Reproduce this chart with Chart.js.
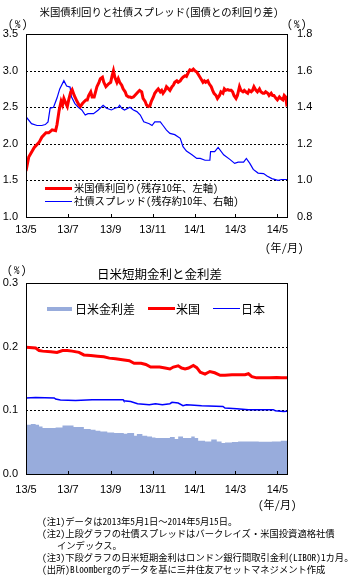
<!DOCTYPE html>
<html><head><meta charset="utf-8">
<script src="https://cdn.jsdelivr.net/npm/chart.js@4/dist/chart.umd.min.js"></script>
<style>
body{margin:0;background:#fff;}
#wrap{position:relative;width:358px;height:585px;overflow:hidden;font-family:"Noto Sans CJK JP",sans-serif;color:#000;background:#fff;font-feature-settings:"hwid" 1;}
canvas{position:absolute;left:0;}
.t{position:absolute;white-space:nowrap;line-height:1;transform:translateY(-50%);}
.c{transform:translate(-50%,-50%);}
.sw{position:absolute;}
.fw{font-feature-settings:normal;}
</style></head><body>
<div id="wrap">
<canvas id="c1" width="358" height="255" style="top:0"></canvas>
<canvas id="c2" width="358" height="245" style="top:255px"></canvas>

<div class="t c" style="left:159px;top:12px;font-size:10.4px">米国債利回りと社債スプレッド(国債との利回り差)</div>
<div class="t" style="left:8px;top:23px;font-size:11px;letter-spacing:1.5px">(%)</div>
<div class="t" style="left:287px;top:23px;font-size:11px;letter-spacing:1.5px">(%)</div>
<div class="t" style="left:265px;top:247px;font-size:11px">(年/月)</div>

<div class="sw" style="left:45px;top:186.5px;width:27px;height:3px;background:#ff0000"></div>
<div class="t" style="left:74px;top:188px;font-size:10.3px">米国債利回り(残存10年、左軸)</div>
<div class="sw" style="left:45px;top:200.5px;width:27px;height:1px;background:#0000ff"></div>
<div class="t" style="left:74px;top:201px;font-size:10.3px">社債スプレッド(残存約10年、右軸)</div>

<div class="t" style="left:7px;top:268.5px;font-size:11px;letter-spacing:1.5px">(%)</div>
<div class="t c" style="left:159.5px;top:273.5px;font-size:12.5px">日米短期金利と金利差</div>

<div class="sw" style="left:47px;top:307px;width:25px;height:4px;background:rgb(152,172,220)"></div>
<div class="t" style="left:75px;top:308.5px;font-size:12px">日米金利差</div>
<div class="sw" style="left:148px;top:306.5px;width:27px;height:3px;background:#ff0000"></div>
<div class="t" style="left:176px;top:308.5px;font-size:12px">米国</div>
<div class="sw" style="left:213px;top:307.5px;width:27px;height:1.5px;background:#0000ff"></div>
<div class="t" style="left:241px;top:308.5px;font-size:12px">日本</div>

<div class="t" style="left:258px;top:504px;font-size:11px">(年/月)</div>

<div class="t" style="left:42px;top:522px;font-size:9.3px">(注1)データは2013年5月1日<span class="fw">～</span>2014年5月15日。</div>
<div class="t" style="left:42px;top:534px;font-size:9.3px">(注2)上段グラフの社債スプレッドはバークレイズ・米国投資適格社債</div>
<div class="t" style="left:57px;top:546px;font-size:9.3px">インデックス。</div>
<div class="t" style="left:42px;top:558px;font-size:9.3px">(注3)下段グラフの日米短期金利はロンドン銀行間取引金利(LIBOR)1カ月。</div>
<div class="t" style="left:42px;top:570px;font-size:9.3px">(出所)Bloombergのデータを基に三井住友アセットマネジメント作成</div>
</div>
<script>
// x values are days counted from 2013-05-01 (end 2014-05-15 = day 379)
const tickDays = [0, 61, 123, 184, 245, 304, 365];
const tickLabels = ['13/5', '13/7', '13/9', '13/11', '14/1', '14/3', '14/5'];

// Upper chart: US 10Y Treasury yield (%, left axis)
const usYieldDays = [0,4,12,19,23,29,33,38,43,45,48,51,53,55,58,60,62,65,67,70,72,74,77,79,82,84,87,89,91,94,96,99,101,103,106,108,111,113,116,118,120,123,125,127,129,132,134,136,139,141,144,146,149,151,153,156,158,161,163,165,168,170,173,175,178,180,182,185,187,190,192,195,197,199,202,204,207,209,212,214,216,219,221,224,226,228,231,233,236,238,241,243,245,248,250,254,257,259,261,264,266,269,271,273,276,278,281,283,286,288,290,293,295,298,300,302,305,307,310,312,315,317,319,322,324,327,329,331,334,336,339,341,344,346,348,351,353,356,358,360,363,365,368,370,373,375,377,379];
const usYield = [1.63,1.82,1.95,2.02,2.09,2.15,2.15,2.19,2.18,2.26,2.45,2.58,2.53,2.62,2.55,2.51,2.60,2.71,2.74,2.66,2.62,2.58,2.53,2.51,2.55,2.57,2.60,2.60,2.66,2.71,2.64,2.64,2.71,2.78,2.84,2.89,2.91,2.84,2.78,2.80,2.82,2.84,2.93,3.00,2.91,2.84,2.89,2.84,2.80,2.75,2.71,2.66,2.64,2.64,2.63,2.64,2.66,2.69,2.71,2.73,2.71,2.62,2.58,2.53,2.51,2.52,2.58,2.64,2.69,2.73,2.75,2.71,2.73,2.69,2.73,2.78,2.75,2.73,2.78,2.80,2.84,2.86,2.84,2.86,2.89,2.91,2.93,2.92,2.98,3.01,3.00,3.02,3.00,2.98,2.95,2.89,2.84,2.86,2.84,2.86,2.82,2.78,2.73,2.69,2.66,2.62,2.66,2.71,2.69,2.75,2.73,2.74,2.73,2.73,2.71,2.66,2.62,2.66,2.78,2.73,2.71,2.73,2.71,2.69,2.73,2.71,2.73,2.78,2.73,2.71,2.75,2.71,2.69,2.69,2.71,2.69,2.66,2.69,2.66,2.66,2.62,2.60,2.64,2.62,2.60,2.66,2.64,2.51];

// Upper chart: corporate bond spread (%, right axis)
const spreadDays = [0,8,16,23,28,32,35,40,45,49,55,59,64,66,71,76,81,86,90,98,105,112,117,124,129,134,136,139,143,151,156,161,166,171,179,183,187,195,199,204,209,216,224,228,233,241,248,253,260,267,268,274,279,287,296,303,308,316,320,325,330,337,345,350,357,366,371,379];
const spread = [1.348,1.31,1.30,1.30,1.305,1.32,1.394,1.40,1.45,1.50,1.545,1.516,1.51,1.457,1.42,1.40,1.385,1.357,1.365,1.365,1.385,1.41,1.394,1.385,1.394,1.40,1.41,1.394,1.385,1.40,1.385,1.376,1.357,1.32,1.31,1.30,1.32,1.32,1.30,1.275,1.257,1.25,1.23,1.184,1.16,1.14,1.12,1.12,1.11,1.11,1.157,1.157,1.18,1.14,1.115,1.093,1.10,1.10,1.12,1.093,1.06,1.04,1.037,1.024,1.01,1.00,1.005,1.005];

// Lower chart: USD 1M LIBOR (%)
const usLiborDays = [0,14,19,24,36,45,53,60,67,77,84,94,104,113,121,130,140,150,157,167,174,181,188,194,202,209,214,221,226,231,236,243,248,253,260,267,274,282,289,299,308,318,323,328,335,345,354,364,371,379];
const usLibor = [0.199,0.198,0.194,0.193,0.192,0.191,0.194,0.194,0.193,0.191,0.187,0.186,0.185,0.184,0.182,0.181,0.1795,0.178,0.174,0.174,0.172,0.168,0.168,0.168,0.1665,0.165,0.168,0.170,0.1665,0.165,0.1665,0.1706,0.167,0.160,0.157,0.161,0.159,0.155,0.155,0.156,0.156,0.156,0.1575,0.153,0.151,0.151,0.151,0.1517,0.151,0.151];

// Lower chart: JPY 1M LIBOR (%)
const jpLiborDays = [0,14,41,43,50,72,96,141,142,152,162,179,188,198,209,212,221,228,233,239,255,286,289,306,323,359,362,374,379];
const jpLibor = [0.1194,0.1203,0.1194,0.1178,0.1162,0.1156,0.1167,0.1167,0.1151,0.114,0.1104,0.1088,0.1104,0.1088,0.1104,0.1125,0.1115,0.1073,0.1088,0.1085,0.1073,0.1062,0.1037,0.1026,0.101,0.101,0.0994,0.0983,0.0985];

// Lower chart: US-Japan rate differential (%)
const diffDays = [0,7,14,19,24,36,43,53,62,69,81,84,94,101,108,118,128,137,142,147,157,161,169,176,183,188,202,209,216,221,228,236,240,245,250,260,269,277,284,289,299,308,318,328,338,348,357,370,379];
const diff = [0.0774,0.0785,0.0774,0.0748,0.0722,0.0722,0.0732,0.0763,0.0763,0.0738,0.0738,0.0707,0.0696,0.068,0.0669,0.0653,0.0644,0.0644,0.0633,0.0644,0.0602,0.063,0.0602,0.059,0.0575,0.0565,0.0565,0.058,0.055,0.059,0.0565,0.0565,0.059,0.0565,0.0523,0.0512,0.054,0.0512,0.0487,0.0496,0.0502,0.0512,0.0512,0.0512,0.0505,0.0508,0.0512,0.0523,0.0523];

const pts = (xs, ys) => xs.map((x, i) => ({ x: x, y: ys[i] }));

// dashed horizontal grid lines at interior y ticks, drawn from the library's y scale
const dashGrid = {
  id: 'dashGrid',
  beforeDatasetsDraw(chart) {
    const { ctx, chartArea: a } = chart;
    const ys = chart.scales.y;
    ctx.save();
    ctx.strokeStyle = '#000';
    ctx.lineWidth = 1;
    ctx.setLineDash([2, 2]);
    ctx.beginPath();
    ys.ticks.forEach((t, i) => {
      if (i === 0 || i === ys.ticks.length - 1) return;
      const py = Math.round(ys.getPixelForValue(t.value)) + 0.5;
      ctx.moveTo(a.left, py);
      ctx.lineTo(a.right, py);
    });
    ctx.stroke();
    ctx.restore();
  }
};

const frame = {
  id: 'frame',
  afterDatasetsDraw(chart) {
    const { ctx, chartArea: a } = chart;
    const xs = chart.scales.x;
    ctx.save();
    ctx.strokeStyle = '#000';
    ctx.lineWidth = 1;
    ctx.setLineDash([]);
    ctx.beginPath();
    tickDays.forEach(d => {
      const px = Math.round(xs.getPixelForValue(d)) + 0.5;
      ctx.moveTo(px, Math.round(a.bottom));
      ctx.lineTo(px, Math.round(a.bottom) - 3);
    });
    ctx.stroke();
    ctx.strokeRect(Math.round(a.left) + 0.5, Math.round(a.top) + 0.5, Math.round(a.right - a.left), Math.round(a.bottom - a.top));
    ctx.restore();
  }
};

const tickFont = { family: '"Liberation Sans", Arial, sans-serif', size: 11 };

function xScale(h, pad) {
  return {
    type: 'linear', min: 0, max: 379,
    afterBuildTicks: s => { s.ticks = tickDays.map(v => ({ value: v })); },
    afterFit: s => { s.height = h; },
    ticks: { callback: (v) => tickLabels[tickDays.indexOf(v)], color: '#000', font: tickFont, padding: pad, maxRotation: 0, autoSkip: false },
    grid: { display: false, drawTicks: false },
    border: { display: false }
  };
}

Chart.defaults.animation = false;

new Chart(document.getElementById('c1'), {
  type: 'line',
  data: {
    datasets: [
      { label: '米国債利回り(残存10年、左軸)', data: pts(usYieldDays, usYield), yAxisID: 'y', borderColor: '#ff0000', borderWidth: 3, pointRadius: 0, tension: 0, fill: false },
      { label: '社債スプレッド(残存約10年、右軸)', data: pts(spreadDays, spread), yAxisID: 'y1', borderColor: '#0000ff', borderWidth: 1.2, pointRadius: 0, tension: 0, fill: false }
    ]
  },
  options: {
    responsive: false, devicePixelRatio: 1, animation: false,
    layout: { padding: { top: 34, left: 0, right: 0, bottom: 0 } },
    plugins: { legend: { display: false }, tooltip: { enabled: false } },
    scales: {
      x: xScale(38, 6),
      y: {
        position: 'left', min: 1.0, max: 3.5,
        afterFit: s => { s.width = 26; },
        ticks: { stepSize: 0.5, callback: v => v.toFixed(1), color: '#000', font: tickFont, padding: 8 },
        grid: { display: false, drawTicks: false },
        border: { display: false }
      },
      y1: {
        position: 'right', min: 0.8, max: 1.8,
        afterFit: s => { s.width = 71; },
        ticks: { stepSize: 0.2, callback: v => v.toFixed(1), color: '#000', font: tickFont, padding: 10 },
        grid: { display: false, drawTicks: false },
        border: { display: false }
      }
    }
  },
  plugins: [dashGrid, frame]
});

new Chart(document.getElementById('c2'), {
  type: 'line',
  data: {
    datasets: [
      { label: '米国', data: pts(usLiborDays, usLibor), borderColor: '#ff0000', borderWidth: 3, pointRadius: 0, tension: 0, fill: false },
      { label: '日本', data: pts(jpLiborDays, jpLibor), borderColor: '#0000ff', borderWidth: 1.5, pointRadius: 0, tension: 0, fill: false },
      { label: '日米金利差', data: pts(diffDays, diff), borderWidth: 0, borderColor: 'rgba(0,0,0,0)', backgroundColor: 'rgb(152,172,220)', pointRadius: 0, stepped: true, fill: 'origin' }
    ]
  },
  options: {
    responsive: false, devicePixelRatio: 1, animation: false,
    layout: { padding: { top: 28, left: 0, right: 0, bottom: 0 } },
    plugins: { legend: { display: false }, tooltip: { enabled: false } },
    scales: {
      x: xScale(26, 9),
      y: {
        position: 'left', min: 0, max: 0.3,
        afterFit: s => { s.width = 26; },
        ticks: { stepSize: 0.1, callback: v => v.toFixed(1), color: '#000', font: tickFont, padding: 8 },
        grid: { display: false, drawTicks: false },
        border: { display: false }
      },
      yR: {
        position: 'right', min: 0, max: 0.3,
        afterFit: s => { s.width = 71; },
        ticks: { display: false },
        grid: { display: false, drawTicks: false },
        border: { display: false }
      }
    }
  },
  plugins: [dashGrid, frame]
});
</script>
</body></html>
